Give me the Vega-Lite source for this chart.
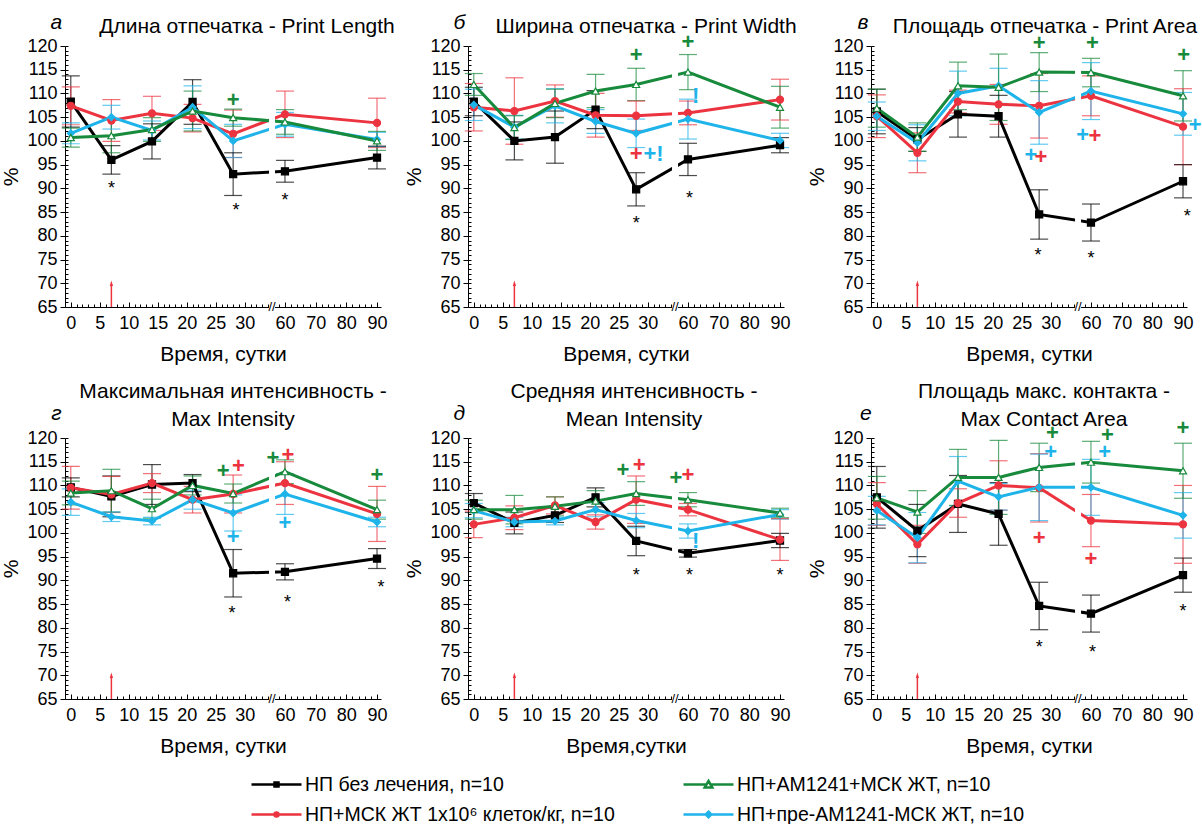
{
"$schema":"https://vega.github.io/schema/vega-lite/v6.json",
"padding":{"left":0,"top":11,"right":0,"bottom":0},
"background":"white",
"config":{"font":"Liberation Sans","view":{"stroke":null},
 "axis":{"labelFont":"Liberation Sans","labelFontSize":18,"labelColor":"#000","labelOverlap":false,"labelFlush":false,"titleFont":"Liberation Sans","titleFontSize":21,"titleFontWeight":"normal","titleColor":"#000","domainColor":"#000","tickColor":"#000","grid":false},
 "title":{"font":"Liberation Sans","fontSize":21,"fontWeight":"normal","color":"#000","frame":"group"}},
"datasets":{
"pts":[
{"p":"a","g":"НП без лечения, n=10","d":0,"v":108.3,"lo":102.9,"hi":113.7},{"p":"a","g":"НП без лечения, n=10","d":7,"v":96.0,"lo":93.0,"hi":99.0},{"p":"a","g":"НП без лечения, n=10","d":14,"v":99.9,"lo":96.2,"hi":103.6},{"p":"a","g":"НП без лечения, n=10","d":21,"v":108.2,"lo":103.5,"hi":112.9},{"p":"a","g":"НП без лечения, n=10","d":28,"v":93.0,"lo":88.5,"hi":97.5},{"p":"a","g":"НП без лечения, n=10","d":60,"v":93.6,"lo":91.3,"hi":95.9},{"p":"a","g":"НП без лечения, n=10","d":90,"v":96.5,"lo":94.1,"hi":98.9},
{"p":"a","g":"НП+МСК ЖТ 1x10⁶ клеток/кг, n=10","d":0,"v":107.4,"lo":103.4,"hi":111.4},{"p":"a","g":"НП+МСК ЖТ 1x10⁶ клеток/кг, n=10","d":7,"v":104.3,"lo":99.9,"hi":108.7},{"p":"a","g":"НП+МСК ЖТ 1x10⁶ клеток/кг, n=10","d":14,"v":105.8,"lo":102.2,"hi":109.4},{"p":"a","g":"НП+МСК ЖТ 1x10⁶ клеток/кг, n=10","d":21,"v":104.8,"lo":101.9,"hi":107.7},{"p":"a","g":"НП+МСК ЖТ 1x10⁶ клеток/кг, n=10","d":28,"v":101.5,"lo":96.5,"hi":106.5},{"p":"a","g":"НП+МСК ЖТ 1x10⁶ клеток/кг, n=10","d":60,"v":105.6,"lo":100.7,"hi":110.5},{"p":"a","g":"НП+МСК ЖТ 1x10⁶ клеток/кг, n=10","d":90,"v":103.8,"lo":98.6,"hi":109.0},
{"p":"a","g":"НП+пре-AM1241-МСК ЖТ, n=10","d":0,"v":101.6,"lo":99.4,"hi":103.8},{"p":"a","g":"НП+пре-AM1241-МСК ЖТ, n=10","d":7,"v":105.0,"lo":102.5,"hi":107.5},{"p":"a","g":"НП+пре-AM1241-МСК ЖТ, n=10","d":14,"v":102.2,"lo":100.2,"hi":104.2},{"p":"a","g":"НП+пре-AM1241-МСК ЖТ, n=10","d":21,"v":107.1,"lo":102.6,"hi":111.6},{"p":"a","g":"НП+пре-AM1241-МСК ЖТ, n=10","d":28,"v":100.0,"lo":96.5,"hi":103.5},{"p":"a","g":"НП+пре-AM1241-МСК ЖТ, n=10","d":60,"v":103.5,"lo":101.0,"hi":106.0},{"p":"a","g":"НП+пре-AM1241-МСК ЖТ, n=10","d":90,"v":100.3,"lo":98.8,"hi":101.8},
{"p":"a","g":"НП+AM1241+МСК ЖТ, n=10","d":0,"v":100.7,"lo":98.7,"hi":102.7},{"p":"a","g":"НП+AM1241+МСК ЖТ, n=10","d":7,"v":101.1,"lo":97.5,"hi":104.7},{"p":"a","g":"НП+AM1241+МСК ЖТ, n=10","d":14,"v":102.4,"lo":99.9,"hi":104.9},{"p":"a","g":"НП+AM1241+МСК ЖТ, n=10","d":21,"v":106.3,"lo":102.1,"hi":110.5},{"p":"a","g":"НП+AM1241+МСК ЖТ, n=10","d":28,"v":104.9,"lo":103.1,"hi":106.7},{"p":"a","g":"НП+AM1241+МСК ЖТ, n=10","d":60,"v":104.0,"lo":101.4,"hi":106.6},{"p":"a","g":"НП+AM1241+МСК ЖТ, n=10","d":90,"v":100.0,"lo":98.0,"hi":102.0},

{"p":"b","g":"НП без лечения, n=10","d":0,"v":108.3,"lo":105.3,"hi":111.3},{"p":"b","g":"НП без лечения, n=10","d":7,"v":100.0,"lo":96.0,"hi":104.0},{"p":"b","g":"НП без лечения, n=10","d":14,"v":100.8,"lo":95.3,"hi":106.3},{"p":"b","g":"НП без лечения, n=10","d":21,"v":106.6,"lo":102.6,"hi":110.6},{"p":"b","g":"НП без лечения, n=10","d":28,"v":89.8,"lo":86.3,"hi":93.3},{"p":"b","g":"НП без лечения, n=10","d":60,"v":96.1,"lo":92.7,"hi":99.5},{"p":"b","g":"НП без лечения, n=10","d":90,"v":99.1,"lo":97.5,"hi":100.7},
{"p":"b","g":"НП+МСК ЖТ 1x10⁶ клеток/кг, n=10","d":0,"v":107.1,"lo":102.1,"hi":112.1},{"p":"b","g":"НП+МСК ЖТ 1x10⁶ клеток/кг, n=10","d":7,"v":106.3,"lo":99.3,"hi":113.3},{"p":"b","g":"НП+МСК ЖТ 1x10⁶ клеток/кг, n=10","d":14,"v":108.4,"lo":105.0,"hi":111.8},{"p":"b","g":"НП+МСК ЖТ 1x10⁶ клеток/кг, n=10","d":21,"v":105.4,"lo":100.8,"hi":110.0},{"p":"b","g":"НП+МСК ЖТ 1x10⁶ клеток/кг, n=10","d":28,"v":105.3,"lo":102.2,"hi":108.4},{"p":"b","g":"НП+МСК ЖТ 1x10⁶ клеток/кг, n=10","d":60,"v":105.9,"lo":103.4,"hi":108.4},{"p":"b","g":"НП+МСК ЖТ 1x10⁶ клеток/кг, n=10","d":90,"v":108.7,"lo":104.4,"hi":113.0},
{"p":"b","g":"НП+пре-AM1241-МСК ЖТ, n=10","d":0,"v":107.6,"lo":104.3,"hi":110.9},{"p":"b","g":"НП+пре-AM1241-МСК ЖТ, n=10","d":7,"v":102.9,"lo":100.4,"hi":105.4},{"p":"b","g":"НП+пре-AM1241-МСК ЖТ, n=10","d":14,"v":107.4,"lo":103.8,"hi":111.0},{"p":"b","g":"НП+пре-AM1241-МСК ЖТ, n=10","d":21,"v":104.1,"lo":101.6,"hi":106.6},{"p":"b","g":"НП+пре-AM1241-МСК ЖТ, n=10","d":28,"v":101.6,"lo":98.6,"hi":104.6},{"p":"b","g":"НП+пре-AM1241-МСК ЖТ, n=10","d":60,"v":104.6,"lo":100.4,"hi":108.8},{"p":"b","g":"НП+пре-AM1241-МСК ЖТ, n=10","d":90,"v":100.1,"lo":98.6,"hi":101.6},
{"p":"b","g":"НП+AM1241+МСК ЖТ, n=10","d":0,"v":111.9,"lo":109.6,"hi":114.2},{"p":"b","g":"НП+AM1241+МСК ЖТ, n=10","d":7,"v":102.8,"lo":100.3,"hi":105.3},{"p":"b","g":"НП+AM1241+МСК ЖТ, n=10","d":14,"v":107.9,"lo":104.9,"hi":110.9},{"p":"b","g":"НП+AM1241+МСК ЖТ, n=10","d":21,"v":110.5,"lo":107.0,"hi":114.0},{"p":"b","g":"НП+AM1241+МСК ЖТ, n=10","d":28,"v":111.9,"lo":108.5,"hi":115.3},{"p":"b","g":"НП+AM1241+МСК ЖТ, n=10","d":60,"v":114.5,"lo":110.8,"hi":118.2},{"p":"b","g":"НП+AM1241+МСК ЖТ, n=10","d":90,"v":107.1,"lo":102.7,"hi":111.5},

{"p":"c","g":"НП без лечения, n=10","d":0,"v":106.2,"lo":101.5,"hi":110.9},{"p":"c","g":"НП без лечения, n=10","d":7,"v":100.3,"lo":97.8,"hi":102.8},{"p":"c","g":"НП без лечения, n=10","d":14,"v":105.6,"lo":100.8,"hi":110.4},{"p":"c","g":"НП без лечения, n=10","d":21,"v":105.2,"lo":100.8,"hi":109.6},{"p":"c","g":"НП без лечения, n=10","d":28,"v":84.5,"lo":79.3,"hi":89.7},{"p":"c","g":"НП без лечения, n=10","d":60,"v":82.8,"lo":78.9,"hi":86.7},{"p":"c","g":"НП без лечения, n=10","d":90,"v":91.5,"lo":88.0,"hi":95.0},
{"p":"c","g":"НП+МСК ЖТ 1x10⁶ клеток/кг, n=10","d":0,"v":105.2,"lo":100.7,"hi":109.7},{"p":"c","g":"НП+МСК ЖТ 1x10⁶ клеток/кг, n=10","d":7,"v":97.5,"lo":93.3,"hi":101.7},{"p":"c","g":"НП+МСК ЖТ 1x10⁶ клеток/кг, n=10","d":14,"v":108.3,"lo":105.9,"hi":110.7},{"p":"c","g":"НП+МСК ЖТ 1x10⁶ клеток/кг, n=10","d":21,"v":107.7,"lo":103.5,"hi":111.9},{"p":"c","g":"НП+МСК ЖТ 1x10⁶ клеток/кг, n=10","d":28,"v":107.4,"lo":100.6,"hi":114.2},{"p":"c","g":"НП+МСК ЖТ 1x10⁶ клеток/кг, n=10","d":60,"v":109.5,"lo":105.3,"hi":113.7},{"p":"c","g":"НП+МСК ЖТ 1x10⁶ клеток/кг, n=10","d":90,"v":103.0,"lo":95.0,"hi":111.0},
{"p":"c","g":"НП+пре-AM1241-МСК ЖТ, n=10","d":0,"v":105.2,"lo":102.2,"hi":108.2},{"p":"c","g":"НП+пре-AM1241-МСК ЖТ, n=10","d":7,"v":99.6,"lo":95.8,"hi":103.4},{"p":"c","g":"НП+пре-AM1241-МСК ЖТ, n=10","d":14,"v":110.0,"lo":105.3,"hi":114.7},{"p":"c","g":"НП+пре-AM1241-МСК ЖТ, n=10","d":21,"v":111.6,"lo":107.9,"hi":115.3},{"p":"c","g":"НП+пре-AM1241-МСК ЖТ, n=10","d":28,"v":106.0,"lo":99.3,"hi":112.7},{"p":"c","g":"НП+пре-AM1241-МСК ЖТ, n=10","d":60,"v":110.5,"lo":104.5,"hi":116.5},{"p":"c","g":"НП+пре-AM1241-МСК ЖТ, n=10","d":90,"v":105.7,"lo":101.2,"hi":110.2},
{"p":"c","g":"НП+AM1241+МСК ЖТ, n=10","d":0,"v":106.9,"lo":102.9,"hi":110.9},{"p":"c","g":"НП+AM1241+МСК ЖТ, n=10","d":7,"v":100.8,"lo":97.8,"hi":103.8},{"p":"c","g":"НП+AM1241+МСК ЖТ, n=10","d":14,"v":111.6,"lo":106.6,"hi":116.6},{"p":"c","g":"НП+AM1241+МСК ЖТ, n=10","d":21,"v":111.3,"lo":104.3,"hi":118.3},{"p":"c","g":"НП+AM1241+МСК ЖТ, n=10","d":28,"v":114.5,"lo":110.4,"hi":118.6},{"p":"c","g":"НП+AM1241+МСК ЖТ, n=10","d":60,"v":114.4,"lo":111.4,"hi":117.4},{"p":"c","g":"НП+AM1241+МСК ЖТ, n=10","d":90,"v":109.5,"lo":104.2,"hi":114.8},

{"p":"d","g":"НП без лечения, n=10","d":0,"v":109.6,"lo":107.6,"hi":111.6},{"p":"d","g":"НП без лечения, n=10","d":7,"v":107.7,"lo":103.4,"hi":112.0},{"p":"d","g":"НП без лечения, n=10","d":14,"v":110.2,"lo":106.0,"hi":114.4},{"p":"d","g":"НП без лечения, n=10","d":21,"v":110.5,"lo":108.7,"hi":112.3},{"p":"d","g":"НП без лечения, n=10","d":28,"v":91.5,"lo":86.5,"hi":96.5},{"p":"d","g":"НП без лечения, n=10","d":60,"v":91.8,"lo":90.1,"hi":93.5},{"p":"d","g":"НП без лечения, n=10","d":90,"v":94.6,"lo":92.5,"hi":96.7},
{"p":"d","g":"НП+МСК ЖТ 1x10⁶ клеток/кг, n=10","d":0,"v":109.5,"lo":105.0,"hi":114.0},{"p":"d","g":"НП+МСК ЖТ 1x10⁶ клеток/кг, n=10","d":7,"v":108.1,"lo":104.3,"hi":111.9},{"p":"d","g":"НП+МСК ЖТ 1x10⁶ клеток/кг, n=10","d":14,"v":110.5,"lo":108.5,"hi":112.5},{"p":"d","g":"НП+МСК ЖТ 1x10⁶ клеток/кг, n=10","d":21,"v":107.0,"lo":104.2,"hi":109.8},{"p":"d","g":"НП+МСК ЖТ 1x10⁶ клеток/кг, n=10","d":28,"v":108.2,"lo":104.2,"hi":112.2},{"p":"d","g":"НП+МСК ЖТ 1x10⁶ клеток/кг, n=10","d":60,"v":110.5,"lo":106.0,"hi":115.0},{"p":"d","g":"НП+МСК ЖТ 1x10⁶ клеток/кг, n=10","d":90,"v":104.0,"lo":98.2,"hi":109.8},
{"p":"d","g":"НП+пре-AM1241-МСК ЖТ, n=10","d":0,"v":106.5,"lo":103.7,"hi":109.3},{"p":"d","g":"НП+пре-AM1241-МСК ЖТ, n=10","d":7,"v":103.4,"lo":102.4,"hi":104.4},{"p":"d","g":"НП+пре-AM1241-МСК ЖТ, n=10","d":14,"v":102.5,"lo":101.7,"hi":103.3},{"p":"d","g":"НП+пре-AM1241-МСК ЖТ, n=10","d":21,"v":107.0,"lo":105.0,"hi":109.0},{"p":"d","g":"НП+пре-AM1241-МСК ЖТ, n=10","d":28,"v":104.2,"lo":100.4,"hi":108.0},{"p":"d","g":"НП+пре-AM1241-МСК ЖТ, n=10","d":60,"v":108.2,"lo":103.9,"hi":112.5},{"p":"d","g":"НП+пре-AM1241-МСК ЖТ, n=10","d":90,"v":102.3,"lo":101.3,"hi":103.3},
{"p":"d","g":"НП+AM1241+МСК ЖТ, n=10","d":0,"v":108.4,"lo":105.9,"hi":110.9},{"p":"d","g":"НП+AM1241+МСК ЖТ, n=10","d":7,"v":108.9,"lo":104.4,"hi":113.4},{"p":"d","g":"НП+AM1241+МСК ЖТ, n=10","d":14,"v":105.1,"lo":103.1,"hi":107.1},{"p":"d","g":"НП+AM1241+МСК ЖТ, n=10","d":21,"v":110.0,"lo":108.0,"hi":112.0},{"p":"d","g":"НП+AM1241+МСК ЖТ, n=10","d":28,"v":108.3,"lo":106.3,"hi":110.3},{"p":"d","g":"НП+AM1241+МСК ЖТ, n=10","d":60,"v":112.9,"lo":110.4,"hi":115.4},{"p":"d","g":"НП+AM1241+МСК ЖТ, n=10","d":90,"v":104.9,"lo":102.9,"hi":106.9},

{"p":"e","g":"НП без лечения, n=10","d":0,"v":106.3,"lo":104.3,"hi":108.3},{"p":"e","g":"НП без лечения, n=10","d":7,"v":102.1,"lo":99.8,"hi":104.4},{"p":"e","g":"НП без лечения, n=10","d":14,"v":103.7,"lo":102.2,"hi":105.2},{"p":"e","g":"НП без лечения, n=10","d":21,"v":107.5,"lo":105.5,"hi":109.5},{"p":"e","g":"НП без лечения, n=10","d":28,"v":98.3,"lo":95.2,"hi":101.4},{"p":"e","g":"НП без лечения, n=10","d":60,"v":95.7,"lo":94.9,"hi":96.5},{"p":"e","g":"НП без лечения, n=10","d":90,"v":98.4,"lo":96.9,"hi":99.9},
{"p":"e","g":"НП+МСК ЖТ 1x10⁶ клеток/кг, n=10","d":0,"v":101.8,"lo":99.0,"hi":104.6},{"p":"e","g":"НП+МСК ЖТ 1x10⁶ клеток/кг, n=10","d":7,"v":103.2,"lo":100.7,"hi":105.7},{"p":"e","g":"НП+МСК ЖТ 1x10⁶ клеток/кг, n=10","d":14,"v":105.8,"lo":104.0,"hi":107.6},{"p":"e","g":"НП+МСК ЖТ 1x10⁶ клеток/кг, n=10","d":21,"v":102.3,"lo":100.8,"hi":103.8},{"p":"e","g":"НП+МСК ЖТ 1x10⁶ клеток/кг, n=10","d":28,"v":107.0,"lo":102.0,"hi":112.0},{"p":"e","g":"НП+МСК ЖТ 1x10⁶ клеток/кг, n=10","d":60,"v":104.9,"lo":103.6,"hi":106.2},{"p":"e","g":"НП+МСК ЖТ 1x10⁶ клеток/кг, n=10","d":90,"v":98.6,"lo":94.2,"hi":103.0},
{"p":"e","g":"НП+пре-AM1241-МСК ЖТ, n=10","d":0,"v":104.7,"lo":103.2,"hi":106.2},{"p":"e","g":"НП+пре-AM1241-МСК ЖТ, n=10","d":7,"v":102.3,"lo":101.3,"hi":103.3},{"p":"e","g":"НП+пре-AM1241-МСК ЖТ, n=10","d":14,"v":102.5,"lo":101.7,"hi":103.3},{"p":"e","g":"НП+пре-AM1241-МСК ЖТ, n=10","d":21,"v":104.9,"lo":103.4,"hi":106.4},{"p":"e","g":"НП+пре-AM1241-МСК ЖТ, n=10","d":28,"v":102.6,"lo":101.1,"hi":104.1},{"p":"e","g":"НП+пре-AM1241-МСК ЖТ, n=10","d":60,"v":100.4,"lo":98.9,"hi":101.9},{"p":"e","g":"НП+пре-AM1241-МСК ЖТ, n=10","d":90,"v":103.9,"lo":102.9,"hi":104.9},
{"p":"e","g":"НП+AM1241+МСК ЖТ, n=10","d":0,"v":104.9,"lo":102.9,"hi":106.9},{"p":"e","g":"НП+AM1241+МСК ЖТ, n=10","d":7,"v":104.9,"lo":101.9,"hi":107.9},{"p":"e","g":"НП+AM1241+МСК ЖТ, n=10","d":14,"v":105.6,"lo":103.6,"hi":107.6},{"p":"e","g":"НП+AM1241+МСК ЖТ, n=10","d":21,"v":106.7,"lo":104.5,"hi":108.9},{"p":"e","g":"НП+AM1241+МСК ЖТ, n=10","d":28,"v":108.3,"lo":105.8,"hi":110.8},{"p":"e","g":"НП+AM1241+МСК ЖТ, n=10","d":60,"v":107.0,"lo":105.5,"hi":108.5},{"p":"e","g":"НП+AM1241+МСК ЖТ, n=10","d":90,"v":104.2,"lo":103.2,"hi":105.2},

{"p":"f","g":"НП без лечения, n=10","d":0,"v":107.5,"lo":101.0,"hi":114.0},{"p":"f","g":"НП без лечения, n=10","d":7,"v":100.5,"lo":95.0,"hi":106.0},{"p":"f","g":"НП без лечения, n=10","d":14,"v":106.1,"lo":100.1,"hi":112.1},{"p":"f","g":"НП без лечения, n=10","d":21,"v":104.0,"lo":97.4,"hi":110.6},{"p":"f","g":"НП без лечения, n=10","d":28,"v":84.6,"lo":79.6,"hi":89.6},{"p":"f","g":"НП без лечения, n=10","d":60,"v":83.0,"lo":79.1,"hi":86.9},{"p":"f","g":"НП без лечения, n=10","d":90,"v":91.1,"lo":87.5,"hi":94.7},
{"p":"f","g":"НП+МСК ЖТ 1x10⁶ клеток/кг, n=10","d":0,"v":106.1,"lo":101.6,"hi":110.6},{"p":"f","g":"НП+МСК ЖТ 1x10⁶ клеток/кг, n=10","d":7,"v":97.6,"lo":93.6,"hi":101.6},{"p":"f","g":"НП+МСК ЖТ 1x10⁶ клеток/кг, n=10","d":14,"v":106.3,"lo":103.3,"hi":109.3},{"p":"f","g":"НП+МСК ЖТ 1x10⁶ клеток/кг, n=10","d":21,"v":110.0,"lo":104.8,"hi":115.2},{"p":"f","g":"НП+МСК ЖТ 1x10⁶ клеток/кг, n=10","d":28,"v":109.5,"lo":102.3,"hi":116.7},{"p":"f","g":"НП+МСК ЖТ 1x10⁶ клеток/кг, n=10","d":60,"v":102.6,"lo":97.1,"hi":108.1},{"p":"f","g":"НП+МСК ЖТ 1x10⁶ клеток/кг, n=10","d":90,"v":101.8,"lo":93.6,"hi":110.0},
{"p":"f","g":"НП+пре-AM1241-МСК ЖТ, n=10","d":0,"v":104.7,"lo":101.7,"hi":107.7},{"p":"f","g":"НП+пре-AM1241-МСК ЖТ, n=10","d":7,"v":99.0,"lo":93.7,"hi":104.3},{"p":"f","g":"НП+пре-AM1241-МСК ЖТ, n=10","d":14,"v":110.9,"lo":105.7,"hi":116.1},{"p":"f","g":"НП+пре-AM1241-МСК ЖТ, n=10","d":21,"v":107.6,"lo":104.8,"hi":110.4},{"p":"f","g":"НП+пре-AM1241-МСК ЖТ, n=10","d":28,"v":109.6,"lo":102.6,"hi":116.6},{"p":"f","g":"НП+пре-AM1241-МСК ЖТ, n=10","d":60,"v":109.6,"lo":103.7,"hi":115.5},{"p":"f","g":"НП+пре-AM1241-МСК ЖТ, n=10","d":90,"v":103.7,"lo":98.9,"hi":108.5},
{"p":"f","g":"НП+AM1241+МСК ЖТ, n=10","d":0,"v":107.4,"lo":102.9,"hi":111.9},{"p":"f","g":"НП+AM1241+МСК ЖТ, n=10","d":7,"v":104.4,"lo":99.9,"hi":108.9},{"p":"f","g":"НП+AM1241+МСК ЖТ, n=10","d":14,"v":111.7,"lo":105.8,"hi":117.6},{"p":"f","g":"НП+AM1241+МСК ЖТ, n=10","d":21,"v":111.7,"lo":103.9,"hi":119.5},{"p":"f","g":"НП+AM1241+МСК ЖТ, n=10","d":28,"v":113.8,"lo":108.7,"hi":118.9},{"p":"f","g":"НП+AM1241+МСК ЖТ, n=10","d":60,"v":114.9,"lo":110.5,"hi":119.3},{"p":"f","g":"НП+AM1241+МСК ЖТ, n=10","d":90,"v":113.1,"lo":107.3,"hi":118.9}
],
"ann":[
{"p":"a","g":"НП без лечения, n=10","d":7,"y":90.9,"t":"*"},{"p":"a","g":"НП без лечения, n=10","d":28.5,"y":86.3,"t":"*"},{"p":"a","g":"НП без лечения, n=10","d":60,"y":88.4,"t":"*"},{"p":"a","g":"НП+AM1241+МСК ЖТ, n=10","d":28,"y":108.7,"t":"+"},
{"p":"b","g":"НП+AM1241+МСК ЖТ, n=10","d":28,"y":118.2,"t":"+"},{"p":"b","g":"НП+AM1241+МСК ЖТ, n=10","d":60,"y":120.9,"t":"+"},{"p":"b","g":"НП+пре-AM1241-МСК ЖТ, n=10","d":62.5,"y":109.5,"t":"!"},{"p":"b","g":"НП+МСК ЖТ 1x10⁶ клеток/кг, n=10","d":28,"y":97.2,"t":"+"},{"p":"b","g":"НП+пре-AM1241-МСК ЖТ, n=10","d":31,"y":97.2,"t":"+!"},{"p":"b","g":"НП без лечения, n=10","d":28,"y":83.5,"t":"*"},{"p":"b","g":"НП без лечения, n=10","d":60.5,"y":88.8,"t":"*"},
{"p":"c","g":"НП+AM1241+МСК ЖТ, n=10","d":28,"y":120.6,"t":"+"},{"p":"c","g":"НП+AM1241+МСК ЖТ, n=10","d":60.5,"y":120.6,"t":"+"},{"p":"c","g":"НП+AM1241+МСК ЖТ, n=10","d":90.2,"y":118.0,"t":"+"},{"p":"c","g":"НП+пре-AM1241-МСК ЖТ, n=10","d":94,"y":103.3,"t":"+"},{"p":"c","g":"НП+пре-AM1241-МСК ЖТ, n=10","d":26.6,"y":97.0,"t":"+"},{"p":"c","g":"НП+МСК ЖТ 1x10⁶ клеток/кг, n=10","d":28.3,"y":96.6,"t":"+"},{"p":"c","g":"НП+пре-AM1241-МСК ЖТ, n=10","d":57.3,"y":101.2,"t":"+"},{"p":"c","g":"НП+МСК ЖТ 1x10⁶ клеток/кг, n=10","d":61.3,"y":101.0,"t":"+"},{"p":"c","g":"НП без лечения, n=10","d":27.8,"y":76.7,"t":"*"},{"p":"c","g":"НП без лечения, n=10","d":60,"y":76.2,"t":"*"},{"p":"c","g":"НП без лечения, n=10","d":91.4,"y":85.1,"t":"*"},
{"p":"d","g":"НП+AM1241+МСК ЖТ, n=10","d":26.3,"y":113.1,"t":"+"},{"p":"d","g":"НП+МСК ЖТ 1x10⁶ клеток/кг, n=10","d":28.9,"y":114.2,"t":"+"},{"p":"d","g":"НП+пре-AM1241-МСК ЖТ, n=10","d":28,"y":99.1,"t":"+"},{"p":"d","g":"НП+AM1241+МСК ЖТ, n=10","d":55.9,"y":115.8,"t":"+"},{"p":"d","g":"НП+МСК ЖТ 1x10⁶ клеток/кг, n=10","d":61,"y":116.5,"t":"+"},{"p":"d","g":"НП+пре-AM1241-МСК ЖТ, n=10","d":60,"y":102.0,"t":"+"},{"p":"d","g":"НП+AM1241+МСК ЖТ, n=10","d":90,"y":112.1,"t":"+"},{"p":"d","g":"НП без лечения, n=10","d":27.8,"y":83.9,"t":"*"},{"p":"d","g":"НП без лечения, n=10","d":60.8,"y":86.2,"t":"*"},{"p":"d","g":"НП без лечения, n=10","d":91.3,"y":89.4,"t":"*"},
{"p":"e","g":"НП+AM1241+МСК ЖТ, n=10","d":25.7,"y":113.3,"t":"+"},{"p":"e","g":"НП+МСК ЖТ 1x10⁶ клеток/кг, n=10","d":28.5,"y":114.4,"t":"+"},{"p":"e","g":"НП+AM1241+МСК ЖТ, n=10","d":55.8,"y":111.6,"t":"+"},{"p":"e","g":"НП+МСК ЖТ 1x10⁶ клеток/кг, n=10","d":60,"y":112.1,"t":"+"},{"p":"e","g":"НП+пре-AM1241-МСК ЖТ, n=10","d":62.5,"y":98.3,"t":"!"},{"p":"e","g":"НП без лечения, n=10","d":28,"y":92.0,"t":"*"},{"p":"e","g":"НП без лечения, n=10","d":60.5,"y":92.0,"t":"*"},{"p":"e","g":"НП без лечения, n=10","d":90,"y":92.0,"t":"*"},
{"p":"f","g":"НП+AM1241+МСК ЖТ, n=10","d":30.3,"y":121.1,"t":"+"},{"p":"f","g":"НП+пре-AM1241-МСК ЖТ, n=10","d":30,"y":117.1,"t":"+"},{"p":"f","g":"НП+AM1241+МСК ЖТ, n=10","d":65.4,"y":120.6,"t":"+"},{"p":"f","g":"НП+пре-AM1241-МСК ЖТ, n=10","d":64.5,"y":117.0,"t":"+"},{"p":"f","g":"НП+AM1241+МСК ЖТ, n=10","d":90,"y":122.2,"t":"+"},{"p":"f","g":"НП+МСК ЖТ 1x10⁶ клеток/кг, n=10","d":28,"y":99.0,"t":"+"},{"p":"f","g":"НП+МСК ЖТ 1x10⁶ клеток/кг, n=10","d":60,"y":94.6,"t":"+"},{"p":"f","g":"НП без лечения, n=10","d":28,"y":76.9,"t":"*"},{"p":"f","g":"НП без лечения, n=10","d":60.5,"y":75.7,"t":"*"},{"p":"f","g":"НП без лечения, n=10","d":90,"y":84.3,"t":"*"}
],
"lab":[
{"p":"a","d":-2.5,"y":124.9,"t":"а"},{"p":"b","d":-2.5,"y":124.9,"t":"б"},{"p":"c","d":-2.4,"y":124.9,"t":"в"},
{"p":"d","d":-2.5,"y":125.1,"t":"г"},{"p":"e","d":-2.5,"y":125.1,"t":"д"},{"p":"f","d":-1.9,"y":125.1,"t":"е"}
]
},
"bounds":"flush",
"spacing":20,
"resolve":{"scale":{"color":"independent","shape":"independent"},"legend":{"color":"independent","shape":"independent"}},
"vconcat":[
{"columns":3,"bounds":"flush","spacing":{"row":131,"column":87},
"concat":[
{"width":316,"height":261,"resolve":{"axis":{"x":"independent","y":"independent"}},"title":{"text":"Длина отпечатка - Print Length","dx":24,"offset":-25.5},
"layer":[
{"data":{"name":"pts"},"transform":[{"filter":"datum.p === 'a'"}],"mark":{"type":"rule","strokeWidth":1.2,"opacity":0.7},
 "encoding":{"x":{"field":"d","type":"quantitative","scale":{"type":"linear","domain":[-1,34.7,56.1,91.3],"range":[0,207,208,316],"nice":false,"zero":false},"axis":{"values":[0,5,10,15,20,25,30,60,70,80,90],"title":"Время, сутки","tickSize":-5,"labelPadding":12,"titlePadding":11}},
  "y":{"field":"lo","type":"quantitative","scale":{"domain":[65,120],"nice":false,"zero":false},"axis":{"values":[65,70,75,80,85,90,95,100,105,110,115,120],"title":"%","tickSize":5,"labelPadding":3,"titlePadding":5}},
  "y2":{"field":"hi"},
  "color":{"field":"g","type":"nominal","scale":{"domain":["НП без лечения, n=10","НП+AM1241+МСК ЖТ, n=10","НП+МСК ЖТ 1x10⁶ клеток/кг, n=10","НП+пре-AM1241-МСК ЖТ, n=10"],"range":["#000000","#178a3c","#ec3440","#1eb4ea"]},"legend":null}}},
{"data":{"values":[{}]},"mark":{"type":"point","opacity":0},"encoding":{"x":{"datum":0,"axis":{"orient":"bottom","values":[0,1,2,3,4,5,6,7,8,9,10,11,12,13,14,15,16,17,18,19,20,21,22,23,24,25,26,27,28,29,30,31,32,33,34,58,60,62,64,66,68,70,72,74,76,78,80,82,84,86,88,90],"labels":false,"title":null,"domain":false,"tickSize":-3}},"y":{"datum":65,"axis":{"orient":"left","values":[65,66,67,68,69,70,71,72,73,74,75,76,77,78,79,80,81,82,83,84,85,86,87,88,89,90,91,92,93,94,95,96,97,98,99,100,101,102,103,104,105,106,107,108,109,110,111,112,113,114,115,116,117,118,119,120],"labels":false,"title":null,"domain":false,"tickSize":-3}}}},
{"data":{"name":"pts"},"transform":[{"filter":"datum.p === 'a'"}],"mark":{"type":"tick","orient":"horizontal","size":18,"thickness":1.2,"opacity":0.7},"encoding":{"x":{"field":"d","type":"quantitative","axis":null},"y":{"field":"lo","type":"quantitative","axis":null},"color":{"field":"g","type":"nominal","legend":null}}},
{"data":{"name":"pts"},"transform":[{"filter":"datum.p === 'a'"}],"mark":{"type":"tick","orient":"horizontal","size":18,"thickness":1.2,"opacity":0.7},"encoding":{"x":{"field":"d","type":"quantitative","axis":null},"y":{"field":"hi","type":"quantitative","axis":null},"color":{"field":"g","type":"nominal","legend":null}}},
{"data":{"name":"pts"},"transform":[{"filter":"datum.p === 'a'"}],"mark":{"type":"line","strokeWidth":3},"encoding":{"x":{"field":"d","type":"quantitative","axis":null},"y":{"field":"v","type":"quantitative","axis":null},"color":{"field":"g","type":"nominal","legend":null}}},
{"data":{"name":"pts"},"transform":[{"filter":"datum.p === 'a'"}],"mark":{"type":"point","filled":true,"size":50,"strokeWidth":1.2,"opacity":1},"encoding":{"x":{"field":"d","type":"quantitative","axis":null},"y":{"field":"v","type":"quantitative","axis":null},
 "shape":{"field":"g","type":"nominal","scale":{"domain":["НП без лечения, n=10","НП+AM1241+МСК ЖТ, n=10","НП+МСК ЖТ 1x10⁶ клеток/кг, n=10","НП+пре-AM1241-МСК ЖТ, n=10"],"range":["square","triangle-up","circle","diamond"]},"legend":null},
 "fill":{"field":"g","type":"nominal","scale":{"domain":["НП без лечения, n=10","НП+AM1241+МСК ЖТ, n=10","НП+МСК ЖТ 1x10⁶ клеток/кг, n=10","НП+пре-AM1241-МСК ЖТ, n=10"],"range":["#000000","#ffffff","#ec3440","#1eb4ea"]},"legend":null},
 "stroke":{"field":"g","type":"nominal","scale":{"domain":["НП без лечения, n=10","НП+AM1241+МСК ЖТ, n=10","НП+МСК ЖТ 1x10⁶ клеток/кг, n=10","НП+пре-AM1241-МСК ЖТ, n=10"],"range":["#000000","#178a3c","#ec3440","#1eb4ea"]},"legend":null}}},
{"data":{"values":[{}]},"mark":{"type":"rule","color":"white","strokeWidth":6},"encoding":{"x":{"datum":35.4,"axis":null},"y":{"datum":64.7,"axis":null},"y2":{"datum":121}}},
{"data":{"values":[{}]},"mark":{"type":"text","text":"//","fontSize":13,"baseline":"middle"},"encoding":{"x":{"datum":35.4,"axis":null},"y":{"datum":65,"axis":null}}},
{"data":{"values":[{}]},"mark":{"type":"rule","color":"#ec3440","strokeWidth":1.5},"encoding":{"x":{"datum":7,"axis":null},"y":{"datum":65,"axis":null},"y2":{"datum":69.5}}},
{"data":{"values":[{}]},"mark":{"type":"point","shape":"M0,-1L0.6,1L-0.6,1Z","filled":true,"size":30,"color":"#ec3440","opacity":1},"encoding":{"x":{"datum":7,"axis":null},"y":{"datum":70.0,"axis":null}}},
{"data":{"name":"ann"},"transform":[{"filter":"datum.p === 'a' && datum.t === '*'"}],"mark":{"type":"text","fontSize":18,"dy":5},"encoding":{"x":{"field":"d","type":"quantitative","axis":null},"y":{"field":"y","type":"quantitative","axis":null},"text":{"field":"t"},"color":{"field":"g","type":"nominal","legend":null}}},
{"data":{"name":"ann"},"transform":[{"filter":"datum.p === 'a' && datum.t !== '*'"}],"mark":{"type":"text","fontSize":22,"fontWeight":"bold"},"encoding":{"x":{"field":"d","type":"quantitative","axis":null},"y":{"field":"y","type":"quantitative","axis":null},"text":{"field":"t"},"color":{"field":"g","type":"nominal","legend":null}}},
{"data":{"name":"lab"},"transform":[{"filter":"datum.p === 'a'"}],"mark":{"type":"text","fontSize":21,"fontStyle":"italic","baseline":"middle"},"encoding":{"x":{"field":"d","type":"quantitative","axis":null},"y":{"field":"y","type":"quantitative","axis":null},"text":{"field":"t"}}}
]},

{"width":316,"height":261,"resolve":{"axis":{"x":"independent","y":"independent"}},"title":{"text":"Ширина отпечатка - Print Width","dx":20,"offset":-25.5},
"layer":[
{"data":{"name":"pts"},"transform":[{"filter":"datum.p === 'b'"}],"mark":{"type":"rule","strokeWidth":1.2,"opacity":0.7},
 "encoding":{"x":{"field":"d","type":"quantitative","scale":{"type":"linear","domain":[-1,34.7,56.1,91.3],"range":[0,207,208,316],"nice":false,"zero":false},"axis":{"values":[0,5,10,15,20,25,30,60,70,80,90],"title":"Время, сутки","tickSize":-5,"labelPadding":12,"titlePadding":11}},
  "y":{"field":"lo","type":"quantitative","scale":{"domain":[65,120],"nice":false,"zero":false},"axis":{"values":[65,70,75,80,85,90,95,100,105,110,115,120],"title":"%","tickSize":5,"labelPadding":3,"titlePadding":5}},
  "y2":{"field":"hi"},"color":{"field":"g","type":"nominal","legend":null}}},
{"data":{"values":[{}]},"mark":{"type":"point","opacity":0},"encoding":{"x":{"datum":0,"axis":{"orient":"bottom","values":[0,1,2,3,4,5,6,7,8,9,10,11,12,13,14,15,16,17,18,19,20,21,22,23,24,25,26,27,28,29,30,31,32,33,34,58,60,62,64,66,68,70,72,74,76,78,80,82,84,86,88,90],"labels":false,"title":null,"domain":false,"tickSize":-3}},"y":{"datum":65,"axis":{"orient":"left","values":[65,66,67,68,69,70,71,72,73,74,75,76,77,78,79,80,81,82,83,84,85,86,87,88,89,90,91,92,93,94,95,96,97,98,99,100,101,102,103,104,105,106,107,108,109,110,111,112,113,114,115,116,117,118,119,120],"labels":false,"title":null,"domain":false,"tickSize":-3}}}},
{"data":{"name":"pts"},"transform":[{"filter":"datum.p === 'b'"}],"mark":{"type":"tick","orient":"horizontal","size":18,"thickness":1.2,"opacity":0.7},"encoding":{"x":{"field":"d","type":"quantitative","axis":null},"y":{"field":"lo","type":"quantitative","axis":null},"color":{"field":"g","type":"nominal","legend":null}}},
{"data":{"name":"pts"},"transform":[{"filter":"datum.p === 'b'"}],"mark":{"type":"tick","orient":"horizontal","size":18,"thickness":1.2,"opacity":0.7},"encoding":{"x":{"field":"d","type":"quantitative","axis":null},"y":{"field":"hi","type":"quantitative","axis":null},"color":{"field":"g","type":"nominal","legend":null}}},
{"data":{"name":"pts"},"transform":[{"filter":"datum.p === 'b'"}],"mark":{"type":"line","strokeWidth":3},"encoding":{"x":{"field":"d","type":"quantitative","axis":null},"y":{"field":"v","type":"quantitative","axis":null},"color":{"field":"g","type":"nominal","legend":null}}},
{"data":{"name":"pts"},"transform":[{"filter":"datum.p === 'b'"}],"mark":{"type":"point","filled":true,"size":50,"strokeWidth":1.2,"opacity":1},"encoding":{"x":{"field":"d","type":"quantitative","axis":null},"y":{"field":"v","type":"quantitative","axis":null},"shape":{"field":"g","type":"nominal","legend":null},"fill":{"field":"g","type":"nominal","legend":null},"stroke":{"field":"g","type":"nominal","legend":null}}},
{"data":{"values":[{}]},"mark":{"type":"rule","color":"white","strokeWidth":6},"encoding":{"x":{"datum":35.4,"axis":null},"y":{"datum":64.7,"axis":null},"y2":{"datum":121}}},
{"data":{"values":[{}]},"mark":{"type":"text","text":"//","fontSize":13,"baseline":"middle"},"encoding":{"x":{"datum":35.4,"axis":null},"y":{"datum":65,"axis":null}}},
{"data":{"values":[{}]},"mark":{"type":"rule","color":"#ec3440","strokeWidth":1.5},"encoding":{"x":{"datum":7,"axis":null},"y":{"datum":65,"axis":null},"y2":{"datum":69.5}}},
{"data":{"values":[{}]},"mark":{"type":"point","shape":"M0,-1L0.6,1L-0.6,1Z","filled":true,"size":30,"color":"#ec3440","opacity":1},"encoding":{"x":{"datum":7,"axis":null},"y":{"datum":70.0,"axis":null}}},
{"data":{"name":"ann"},"transform":[{"filter":"datum.p === 'b' && datum.t === '*'"}],"mark":{"type":"text","fontSize":18,"dy":5},"encoding":{"x":{"field":"d","type":"quantitative","axis":null},"y":{"field":"y","type":"quantitative","axis":null},"text":{"field":"t"},"color":{"field":"g","type":"nominal","legend":null}}},
{"data":{"name":"ann"},"transform":[{"filter":"datum.p === 'b' && datum.t !== '*'"}],"mark":{"type":"text","fontSize":22,"fontWeight":"bold"},"encoding":{"x":{"field":"d","type":"quantitative","axis":null},"y":{"field":"y","type":"quantitative","axis":null},"text":{"field":"t"},"color":{"field":"g","type":"nominal","legend":null}}},
{"data":{"name":"lab"},"transform":[{"filter":"datum.p === 'b'"}],"mark":{"type":"text","fontSize":21,"fontStyle":"italic","baseline":"middle"},"encoding":{"x":{"field":"d","type":"quantitative","axis":null},"y":{"field":"y","type":"quantitative","axis":null},"text":{"field":"t"}}}
]},

{"width":316,"height":261,"resolve":{"axis":{"x":"independent","y":"independent"}},"title":{"text":"Площадь отпечатка - Print Area","dx":16,"offset":-25.5},
"layer":[
{"data":{"name":"pts"},"transform":[{"filter":"datum.p === 'c'"}],"mark":{"type":"rule","strokeWidth":1.2,"opacity":0.7},
 "encoding":{"x":{"field":"d","type":"quantitative","scale":{"type":"linear","domain":[-1,34.7,56.1,91.3],"range":[0,207,208,316],"nice":false,"zero":false},"axis":{"values":[0,5,10,15,20,25,30,60,70,80,90],"title":"Время, сутки","tickSize":-5,"labelPadding":12,"titlePadding":11}},
  "y":{"field":"lo","type":"quantitative","scale":{"domain":[65,120],"nice":false,"zero":false},"axis":{"values":[65,70,75,80,85,90,95,100,105,110,115,120],"title":"%","tickSize":5,"labelPadding":3,"titlePadding":5}},
  "y2":{"field":"hi"},"color":{"field":"g","type":"nominal","legend":null}}},
{"data":{"values":[{}]},"mark":{"type":"point","opacity":0},"encoding":{"x":{"datum":0,"axis":{"orient":"bottom","values":[0,1,2,3,4,5,6,7,8,9,10,11,12,13,14,15,16,17,18,19,20,21,22,23,24,25,26,27,28,29,30,31,32,33,34,58,60,62,64,66,68,70,72,74,76,78,80,82,84,86,88,90],"labels":false,"title":null,"domain":false,"tickSize":-3}},"y":{"datum":65,"axis":{"orient":"left","values":[65,66,67,68,69,70,71,72,73,74,75,76,77,78,79,80,81,82,83,84,85,86,87,88,89,90,91,92,93,94,95,96,97,98,99,100,101,102,103,104,105,106,107,108,109,110,111,112,113,114,115,116,117,118,119,120],"labels":false,"title":null,"domain":false,"tickSize":-3}}}},
{"data":{"name":"pts"},"transform":[{"filter":"datum.p === 'c'"}],"mark":{"type":"tick","orient":"horizontal","size":18,"thickness":1.2,"opacity":0.7},"encoding":{"x":{"field":"d","type":"quantitative","axis":null},"y":{"field":"lo","type":"quantitative","axis":null},"color":{"field":"g","type":"nominal","legend":null}}},
{"data":{"name":"pts"},"transform":[{"filter":"datum.p === 'c'"}],"mark":{"type":"tick","orient":"horizontal","size":18,"thickness":1.2,"opacity":0.7},"encoding":{"x":{"field":"d","type":"quantitative","axis":null},"y":{"field":"hi","type":"quantitative","axis":null},"color":{"field":"g","type":"nominal","legend":null}}},
{"data":{"name":"pts"},"transform":[{"filter":"datum.p === 'c'"}],"mark":{"type":"line","strokeWidth":3},"encoding":{"x":{"field":"d","type":"quantitative","axis":null},"y":{"field":"v","type":"quantitative","axis":null},"color":{"field":"g","type":"nominal","legend":null}}},
{"data":{"name":"pts"},"transform":[{"filter":"datum.p === 'c'"}],"mark":{"type":"point","filled":true,"size":50,"strokeWidth":1.2,"opacity":1},"encoding":{"x":{"field":"d","type":"quantitative","axis":null},"y":{"field":"v","type":"quantitative","axis":null},"shape":{"field":"g","type":"nominal","legend":null},"fill":{"field":"g","type":"nominal","legend":null},"stroke":{"field":"g","type":"nominal","legend":null}}},
{"data":{"values":[{}]},"mark":{"type":"rule","color":"white","strokeWidth":6},"encoding":{"x":{"datum":35.4,"axis":null},"y":{"datum":64.7,"axis":null},"y2":{"datum":121}}},
{"data":{"values":[{}]},"mark":{"type":"text","text":"//","fontSize":13,"baseline":"middle"},"encoding":{"x":{"datum":35.4,"axis":null},"y":{"datum":65,"axis":null}}},
{"data":{"values":[{}]},"mark":{"type":"rule","color":"#ec3440","strokeWidth":1.5},"encoding":{"x":{"datum":7,"axis":null},"y":{"datum":65,"axis":null},"y2":{"datum":69.5}}},
{"data":{"values":[{}]},"mark":{"type":"point","shape":"M0,-1L0.6,1L-0.6,1Z","filled":true,"size":30,"color":"#ec3440","opacity":1},"encoding":{"x":{"datum":7,"axis":null},"y":{"datum":70.0,"axis":null}}},
{"data":{"name":"ann"},"transform":[{"filter":"datum.p === 'c' && datum.t === '*'"}],"mark":{"type":"text","fontSize":18,"dy":5},"encoding":{"x":{"field":"d","type":"quantitative","axis":null},"y":{"field":"y","type":"quantitative","axis":null},"text":{"field":"t"},"color":{"field":"g","type":"nominal","legend":null}}},
{"data":{"name":"ann"},"transform":[{"filter":"datum.p === 'c' && datum.t !== '*'"}],"mark":{"type":"text","fontSize":22,"fontWeight":"bold"},"encoding":{"x":{"field":"d","type":"quantitative","axis":null},"y":{"field":"y","type":"quantitative","axis":null},"text":{"field":"t"},"color":{"field":"g","type":"nominal","legend":null}}},
{"data":{"name":"lab"},"transform":[{"filter":"datum.p === 'c'"}],"mark":{"type":"text","fontSize":21,"fontStyle":"italic","baseline":"middle"},"encoding":{"x":{"field":"d","type":"quantitative","axis":null},"y":{"field":"y","type":"quantitative","axis":null},"text":{"field":"t"}}}
]},

{"width":316,"height":261,"resolve":{"axis":{"x":"independent","y":"independent"}},"title":{"text":["Максимальная интенсивность -","Max Intensity"],"dx":10,"offset":-27,"lineHeight":28},
"layer":[
{"data":{"name":"pts"},"transform":[{"filter":"datum.p === 'd'"}],"mark":{"type":"rule","strokeWidth":1.2,"opacity":0.7},
 "encoding":{"x":{"field":"d","type":"quantitative","scale":{"type":"linear","domain":[-1,34.7,56.1,91.3],"range":[0,207,208,316],"nice":false,"zero":false},"axis":{"values":[0,5,10,15,20,25,30,60,70,80,90],"title":"Время, сутки","tickSize":-5,"labelPadding":12,"titlePadding":11}},
  "y":{"field":"lo","type":"quantitative","scale":{"domain":[65,120],"nice":false,"zero":false},"axis":{"values":[65,70,75,80,85,90,95,100,105,110,115,120],"title":"%","tickSize":5,"labelPadding":3,"titlePadding":5}},
  "y2":{"field":"hi"},"color":{"field":"g","type":"nominal","legend":null}}},
{"data":{"values":[{}]},"mark":{"type":"point","opacity":0},"encoding":{"x":{"datum":0,"axis":{"orient":"bottom","values":[0,1,2,3,4,5,6,7,8,9,10,11,12,13,14,15,16,17,18,19,20,21,22,23,24,25,26,27,28,29,30,31,32,33,34,58,60,62,64,66,68,70,72,74,76,78,80,82,84,86,88,90],"labels":false,"title":null,"domain":false,"tickSize":-3}},"y":{"datum":65,"axis":{"orient":"left","values":[65,66,67,68,69,70,71,72,73,74,75,76,77,78,79,80,81,82,83,84,85,86,87,88,89,90,91,92,93,94,95,96,97,98,99,100,101,102,103,104,105,106,107,108,109,110,111,112,113,114,115,116,117,118,119,120],"labels":false,"title":null,"domain":false,"tickSize":-3}}}},
{"data":{"name":"pts"},"transform":[{"filter":"datum.p === 'd'"}],"mark":{"type":"tick","orient":"horizontal","size":18,"thickness":1.2,"opacity":0.7},"encoding":{"x":{"field":"d","type":"quantitative","axis":null},"y":{"field":"lo","type":"quantitative","axis":null},"color":{"field":"g","type":"nominal","legend":null}}},
{"data":{"name":"pts"},"transform":[{"filter":"datum.p === 'd'"}],"mark":{"type":"tick","orient":"horizontal","size":18,"thickness":1.2,"opacity":0.7},"encoding":{"x":{"field":"d","type":"quantitative","axis":null},"y":{"field":"hi","type":"quantitative","axis":null},"color":{"field":"g","type":"nominal","legend":null}}},
{"data":{"name":"pts"},"transform":[{"filter":"datum.p === 'd'"}],"mark":{"type":"line","strokeWidth":3},"encoding":{"x":{"field":"d","type":"quantitative","axis":null},"y":{"field":"v","type":"quantitative","axis":null},"color":{"field":"g","type":"nominal","legend":null}}},
{"data":{"name":"pts"},"transform":[{"filter":"datum.p === 'd'"}],"mark":{"type":"point","filled":true,"size":50,"strokeWidth":1.2,"opacity":1},"encoding":{"x":{"field":"d","type":"quantitative","axis":null},"y":{"field":"v","type":"quantitative","axis":null},"shape":{"field":"g","type":"nominal","legend":null},"fill":{"field":"g","type":"nominal","legend":null},"stroke":{"field":"g","type":"nominal","legend":null}}},
{"data":{"values":[{}]},"mark":{"type":"rule","color":"white","strokeWidth":6},"encoding":{"x":{"datum":35.4,"axis":null},"y":{"datum":64.7,"axis":null},"y2":{"datum":121}}},
{"data":{"values":[{}]},"mark":{"type":"text","text":"//","fontSize":13,"baseline":"middle"},"encoding":{"x":{"datum":35.4,"axis":null},"y":{"datum":65,"axis":null}}},
{"data":{"values":[{}]},"mark":{"type":"rule","color":"#ec3440","strokeWidth":1.5},"encoding":{"x":{"datum":7,"axis":null},"y":{"datum":65,"axis":null},"y2":{"datum":69.5}}},
{"data":{"values":[{}]},"mark":{"type":"point","shape":"M0,-1L0.6,1L-0.6,1Z","filled":true,"size":30,"color":"#ec3440","opacity":1},"encoding":{"x":{"datum":7,"axis":null},"y":{"datum":70.0,"axis":null}}},
{"data":{"name":"ann"},"transform":[{"filter":"datum.p === 'd' && datum.t === '*'"}],"mark":{"type":"text","fontSize":18,"dy":5},"encoding":{"x":{"field":"d","type":"quantitative","axis":null},"y":{"field":"y","type":"quantitative","axis":null},"text":{"field":"t"},"color":{"field":"g","type":"nominal","legend":null}}},
{"data":{"name":"ann"},"transform":[{"filter":"datum.p === 'd' && datum.t !== '*'"}],"mark":{"type":"text","fontSize":22,"fontWeight":"bold"},"encoding":{"x":{"field":"d","type":"quantitative","axis":null},"y":{"field":"y","type":"quantitative","axis":null},"text":{"field":"t"},"color":{"field":"g","type":"nominal","legend":null}}},
{"data":{"name":"lab"},"transform":[{"filter":"datum.p === 'd'"}],"mark":{"type":"text","fontSize":21,"fontStyle":"italic","baseline":"middle"},"encoding":{"x":{"field":"d","type":"quantitative","axis":null},"y":{"field":"y","type":"quantitative","axis":null},"text":{"field":"t"}}}
]},

{"width":316,"height":261,"resolve":{"axis":{"x":"independent","y":"independent"}},"title":{"text":["Средняя интенсивность -","Mean Intensity"],"dx":8,"offset":-27,"lineHeight":28},
"layer":[
{"data":{"name":"pts"},"transform":[{"filter":"datum.p === 'e'"}],"mark":{"type":"rule","strokeWidth":1.2,"opacity":0.7},
 "encoding":{"x":{"field":"d","type":"quantitative","scale":{"type":"linear","domain":[-1,34.7,56.1,91.3],"range":[0,207,208,316],"nice":false,"zero":false},"axis":{"values":[0,5,10,15,20,25,30,60,70,80,90],"title":"Время,сутки","tickSize":-5,"labelPadding":12,"titlePadding":11}},
  "y":{"field":"lo","type":"quantitative","scale":{"domain":[65,120],"nice":false,"zero":false},"axis":{"values":[65,70,75,80,85,90,95,100,105,110,115,120],"title":"%","tickSize":5,"labelPadding":3,"titlePadding":5}},
  "y2":{"field":"hi"},"color":{"field":"g","type":"nominal","legend":null}}},
{"data":{"values":[{}]},"mark":{"type":"point","opacity":0},"encoding":{"x":{"datum":0,"axis":{"orient":"bottom","values":[0,1,2,3,4,5,6,7,8,9,10,11,12,13,14,15,16,17,18,19,20,21,22,23,24,25,26,27,28,29,30,31,32,33,34,58,60,62,64,66,68,70,72,74,76,78,80,82,84,86,88,90],"labels":false,"title":null,"domain":false,"tickSize":-3}},"y":{"datum":65,"axis":{"orient":"left","values":[65,66,67,68,69,70,71,72,73,74,75,76,77,78,79,80,81,82,83,84,85,86,87,88,89,90,91,92,93,94,95,96,97,98,99,100,101,102,103,104,105,106,107,108,109,110,111,112,113,114,115,116,117,118,119,120],"labels":false,"title":null,"domain":false,"tickSize":-3}}}},
{"data":{"name":"pts"},"transform":[{"filter":"datum.p === 'e'"}],"mark":{"type":"tick","orient":"horizontal","size":18,"thickness":1.2,"opacity":0.7},"encoding":{"x":{"field":"d","type":"quantitative","axis":null},"y":{"field":"lo","type":"quantitative","axis":null},"color":{"field":"g","type":"nominal","legend":null}}},
{"data":{"name":"pts"},"transform":[{"filter":"datum.p === 'e'"}],"mark":{"type":"tick","orient":"horizontal","size":18,"thickness":1.2,"opacity":0.7},"encoding":{"x":{"field":"d","type":"quantitative","axis":null},"y":{"field":"hi","type":"quantitative","axis":null},"color":{"field":"g","type":"nominal","legend":null}}},
{"data":{"name":"pts"},"transform":[{"filter":"datum.p === 'e'"}],"mark":{"type":"line","strokeWidth":3},"encoding":{"x":{"field":"d","type":"quantitative","axis":null},"y":{"field":"v","type":"quantitative","axis":null},"color":{"field":"g","type":"nominal","legend":null}}},
{"data":{"name":"pts"},"transform":[{"filter":"datum.p === 'e'"}],"mark":{"type":"point","filled":true,"size":50,"strokeWidth":1.2,"opacity":1},"encoding":{"x":{"field":"d","type":"quantitative","axis":null},"y":{"field":"v","type":"quantitative","axis":null},"shape":{"field":"g","type":"nominal","legend":null},"fill":{"field":"g","type":"nominal","legend":null},"stroke":{"field":"g","type":"nominal","legend":null}}},
{"data":{"values":[{}]},"mark":{"type":"rule","color":"white","strokeWidth":6},"encoding":{"x":{"datum":35.4,"axis":null},"y":{"datum":64.7,"axis":null},"y2":{"datum":121}}},
{"data":{"values":[{}]},"mark":{"type":"text","text":"//","fontSize":13,"baseline":"middle"},"encoding":{"x":{"datum":35.4,"axis":null},"y":{"datum":65,"axis":null}}},
{"data":{"values":[{}]},"mark":{"type":"rule","color":"#ec3440","strokeWidth":1.5},"encoding":{"x":{"datum":7,"axis":null},"y":{"datum":65,"axis":null},"y2":{"datum":69.5}}},
{"data":{"values":[{}]},"mark":{"type":"point","shape":"M0,-1L0.6,1L-0.6,1Z","filled":true,"size":30,"color":"#ec3440","opacity":1},"encoding":{"x":{"datum":7,"axis":null},"y":{"datum":70.0,"axis":null}}},
{"data":{"name":"ann"},"transform":[{"filter":"datum.p === 'e' && datum.t === '*'"}],"mark":{"type":"text","fontSize":18,"dy":5},"encoding":{"x":{"field":"d","type":"quantitative","axis":null},"y":{"field":"y","type":"quantitative","axis":null},"text":{"field":"t"},"color":{"field":"g","type":"nominal","legend":null}}},
{"data":{"name":"ann"},"transform":[{"filter":"datum.p === 'e' && datum.t !== '*'"}],"mark":{"type":"text","fontSize":22,"fontWeight":"bold"},"encoding":{"x":{"field":"d","type":"quantitative","axis":null},"y":{"field":"y","type":"quantitative","axis":null},"text":{"field":"t"},"color":{"field":"g","type":"nominal","legend":null}}},
{"data":{"name":"lab"},"transform":[{"filter":"datum.p === 'e'"}],"mark":{"type":"text","fontSize":21,"fontStyle":"italic","baseline":"middle"},"encoding":{"x":{"field":"d","type":"quantitative","axis":null},"y":{"field":"y","type":"quantitative","axis":null},"text":{"field":"t"}}}
]},

{"width":316,"height":261,"resolve":{"axis":{"x":"independent","y":"independent"}},"title":{"text":["Площадь макс. контакта -","Max Contact Area"],"dx":15,"offset":-27,"lineHeight":28},
"layer":[
{"data":{"name":"pts"},"transform":[{"filter":"datum.p === 'f'"}],"mark":{"type":"rule","strokeWidth":1.2,"opacity":0.7},
 "encoding":{"x":{"field":"d","type":"quantitative","scale":{"type":"linear","domain":[-1,34.7,56.1,91.3],"range":[0,207,208,316],"nice":false,"zero":false},"axis":{"values":[0,5,10,15,20,25,30,60,70,80,90],"title":"Время, сутки","tickSize":-5,"labelPadding":12,"titlePadding":11}},
  "y":{"field":"lo","type":"quantitative","scale":{"domain":[65,120],"nice":false,"zero":false},"axis":{"values":[65,70,75,80,85,90,95,100,105,110,115,120],"title":"%","tickSize":5,"labelPadding":3,"titlePadding":5}},
  "y2":{"field":"hi"},"color":{"field":"g","type":"nominal","legend":null}}},
{"data":{"values":[{}]},"mark":{"type":"point","opacity":0},"encoding":{"x":{"datum":0,"axis":{"orient":"bottom","values":[0,1,2,3,4,5,6,7,8,9,10,11,12,13,14,15,16,17,18,19,20,21,22,23,24,25,26,27,28,29,30,31,32,33,34,58,60,62,64,66,68,70,72,74,76,78,80,82,84,86,88,90],"labels":false,"title":null,"domain":false,"tickSize":-3}},"y":{"datum":65,"axis":{"orient":"left","values":[65,66,67,68,69,70,71,72,73,74,75,76,77,78,79,80,81,82,83,84,85,86,87,88,89,90,91,92,93,94,95,96,97,98,99,100,101,102,103,104,105,106,107,108,109,110,111,112,113,114,115,116,117,118,119,120],"labels":false,"title":null,"domain":false,"tickSize":-3}}}},
{"data":{"name":"pts"},"transform":[{"filter":"datum.p === 'f'"}],"mark":{"type":"tick","orient":"horizontal","size":18,"thickness":1.2,"opacity":0.7},"encoding":{"x":{"field":"d","type":"quantitative","axis":null},"y":{"field":"lo","type":"quantitative","axis":null},"color":{"field":"g","type":"nominal","legend":null}}},
{"data":{"name":"pts"},"transform":[{"filter":"datum.p === 'f'"}],"mark":{"type":"tick","orient":"horizontal","size":18,"thickness":1.2,"opacity":0.7},"encoding":{"x":{"field":"d","type":"quantitative","axis":null},"y":{"field":"hi","type":"quantitative","axis":null},"color":{"field":"g","type":"nominal","legend":null}}},
{"data":{"name":"pts"},"transform":[{"filter":"datum.p === 'f'"}],"mark":{"type":"line","strokeWidth":3},"encoding":{"x":{"field":"d","type":"quantitative","axis":null},"y":{"field":"v","type":"quantitative","axis":null},"color":{"field":"g","type":"nominal","legend":null}}},
{"data":{"name":"pts"},"transform":[{"filter":"datum.p === 'f'"}],"mark":{"type":"point","filled":true,"size":50,"strokeWidth":1.2,"opacity":1},"encoding":{"x":{"field":"d","type":"quantitative","axis":null},"y":{"field":"v","type":"quantitative","axis":null},"shape":{"field":"g","type":"nominal","legend":null},"fill":{"field":"g","type":"nominal","legend":null},"stroke":{"field":"g","type":"nominal","legend":null}}},
{"data":{"values":[{}]},"mark":{"type":"rule","color":"white","strokeWidth":6},"encoding":{"x":{"datum":35.4,"axis":null},"y":{"datum":64.7,"axis":null},"y2":{"datum":121}}},
{"data":{"values":[{}]},"mark":{"type":"text","text":"//","fontSize":13,"baseline":"middle"},"encoding":{"x":{"datum":35.4,"axis":null},"y":{"datum":65,"axis":null}}},
{"data":{"values":[{}]},"mark":{"type":"rule","color":"#ec3440","strokeWidth":1.5},"encoding":{"x":{"datum":7,"axis":null},"y":{"datum":65,"axis":null},"y2":{"datum":69.5}}},
{"data":{"values":[{}]},"mark":{"type":"point","shape":"M0,-1L0.6,1L-0.6,1Z","filled":true,"size":30,"color":"#ec3440","opacity":1},"encoding":{"x":{"datum":7,"axis":null},"y":{"datum":70.0,"axis":null}}},
{"data":{"name":"ann"},"transform":[{"filter":"datum.p === 'f' && datum.t === '*'"}],"mark":{"type":"text","fontSize":18,"dy":5},"encoding":{"x":{"field":"d","type":"quantitative","axis":null},"y":{"field":"y","type":"quantitative","axis":null},"text":{"field":"t"},"color":{"field":"g","type":"nominal","legend":null}}},
{"data":{"name":"ann"},"transform":[{"filter":"datum.p === 'f' && datum.t !== '*'"}],"mark":{"type":"text","fontSize":22,"fontWeight":"bold"},"encoding":{"x":{"field":"d","type":"quantitative","axis":null},"y":{"field":"y","type":"quantitative","axis":null},"text":{"field":"t"},"color":{"field":"g","type":"nominal","legend":null}}},
{"data":{"name":"lab"},"transform":[{"filter":"datum.p === 'f'"}],"mark":{"type":"text","fontSize":21,"fontStyle":"italic","baseline":"middle"},"encoding":{"x":{"field":"d","type":"quantitative","axis":null},"y":{"field":"y","type":"quantitative","axis":null},"text":{"field":"t"}}}
]}
]},
{"width":1,"height":1,"data":{"name":"pts"},"transform":[{"filter":"datum.p === 'none'"}],
 "mark":{"type":"point","filled":false,"strokeWidth":2.5,"opacity":1},
 "encoding":{
  "color":{"field":"g","type":"nominal","scale":{"domain":["НП без лечения, n=10","НП+AM1241+МСК ЖТ, n=10","НП+МСК ЖТ 1x10⁶ клеток/кг, n=10","НП+пре-AM1241-МСК ЖТ, n=10"],"range":["#000000","#178a3c","#ec3440","#1eb4ea"]},
   "legend":{"orient":"none","legendX":200,"legendY":707,"columns":2,"title":null,"direction":"horizontal","labelFont":"Liberation Sans","labelFontSize":19.5,"labelColor":"#000","labelLimit":600,"symbolSize":400,"symbolStrokeWidth":2.5,"symbolOpacity":1,"labelOffset":17,"columnPadding":63,"rowPadding":9,"padding":0}},
  "shape":{"field":"g","type":"nominal","scale":{"domain":["НП без лечения, n=10","НП+AM1241+МСК ЖТ, n=10","НП+МСК ЖТ 1x10⁶ клеток/кг, n=10","НП+пре-AM1241-МСК ЖТ, n=10"],"range":["M-2.5,0H2.5M-0.2,-0.2H0.2V0.2H-0.2Z","M-2.5,0H-0.22M0.22,0H2.5M0,-0.35L0.38,0.3L-0.38,0.3Z","M-2.5,0H2.5M0.2,0A0.2,0.2,0,1,1,-0.2,0A0.2,0.2,0,1,1,0.2,0Z","M-2.5,0H2.5M0,-0.28L0.28,0L0,0.28L-0.28,0Z"]}}
 }}
]
}
